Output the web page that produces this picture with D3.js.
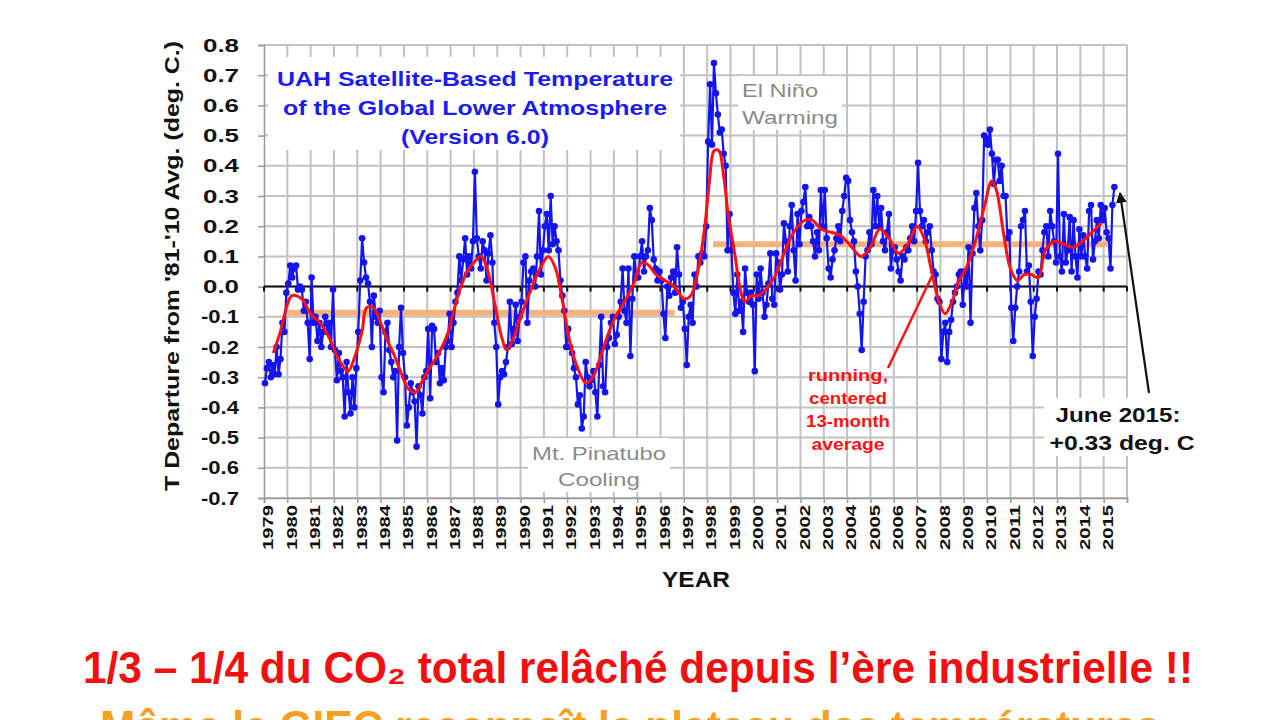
<!DOCTYPE html>
<html><head><meta charset="utf-8">
<script src="https://cdn.jsdelivr.net/npm/d3@7"></script>
<style>
html,body{margin:0;padding:0;background:#fff;}
svg{display:block;font-family:"Liberation Sans",Arial,sans-serif;}
</style></head>
<body><svg id="c" width="1280" height="720"></svg>
<script>
// ---- data ----
const startYear = 1979;
const anomalies = [
-0.32,-0.27,-0.25,-0.30,-0.26,-0.29,-0.20,-0.29,-0.24,-0.12,-0.15,-0.02, // 1979
0.01,0.07,0.03,0.06,0.07,-0.01,0.00,-0.01,-0.08,-0.05,-0.12,-0.24,     // 1980
0.03,-0.12,-0.10,-0.18,-0.12,-0.20,-0.15,-0.10,-0.15,-0.12,-0.20,-0.01, // 1981
-0.21,-0.31,-0.22,-0.28,-0.30,-0.43,-0.25,-0.35,-0.42,-0.30,-0.40,-0.27, // 1982
-0.15,0.02,0.16,0.08,0.03,0.01,-0.05,-0.20,-0.03,-0.10,-0.12,-0.08,   // 1983
-0.30,-0.35,-0.15,-0.12,-0.21,-0.25,-0.30,-0.28,-0.51,-0.20,-0.07,-0.22, // 1984
-0.30,-0.46,-0.40,-0.32,-0.35,-0.38,-0.53,-0.33,-0.36,-0.42,-0.30,-0.28, // 1985
-0.14,-0.37,-0.13,-0.14,-0.25,-0.22,-0.32,-0.27,-0.31,-0.20,-0.18,-0.09, // 1986
-0.20,-0.12,-0.05,-0.02,0.10,0.02,0.09,0.16,0.04,0.10,0.06,0.15,     // 1987
0.38,0.16,0.10,0.06,0.15,0.12,0.02,0.11,0.17,0.08,-0.12,-0.20,       // 1988
-0.39,-0.30,-0.28,-0.29,-0.25,-0.20,-0.05,-0.19,-0.14,-0.06,-0.18,-0.10, // 1989
-0.05,0.08,0.10,-0.12,0.02,0.05,0.06,0.00,0.10,0.25,0.04,0.12,       // 1990
0.20,0.24,0.12,0.30,0.14,0.20,0.15,0.12,0.02,-0.03,-0.08,-0.20,      // 1991
-0.14,-0.20,-0.22,-0.27,-0.30,-0.39,-0.36,-0.47,-0.43,-0.25,-0.30,-0.33, // 1992
-0.31,-0.28,-0.35,-0.43,-0.26,-0.10,-0.33,-0.35,-0.20,-0.17,-0.12,-0.10, // 1993
-0.19,-0.16,-0.10,-0.05,0.06,-0.08,-0.12,0.06,-0.23,-0.04,0.10,0.03,  // 1994
0.03,0.10,0.15,0.05,0.10,0.12,0.26,0.22,0.09,0.06,0.02,0.05,         // 1995
0.02,-0.09,-0.17,0.00,-0.03,0.03,0.05,-0.02,0.13,0.04,-0.07,-0.05,   // 1996
-0.14,-0.26,-0.10,-0.06,-0.12,0.04,0.00,0.10,0.08,0.11,0.10,0.20,    // 1997
0.48,0.67,0.47,0.74,0.64,0.57,0.51,0.52,0.44,0.40,0.12,0.24,         // 1998
0.12,-0.02,-0.09,0.04,-0.08,-0.05,-0.15,0.06,-0.02,-0.05,-0.02,-0.06, // 1999
-0.28,0.04,-0.04,0.06,-0.02,-0.10,-0.06,0.01,0.11,-0.04,-0.06,0.11,  // 2000
0.08,-0.01,0.04,0.21,0.15,0.05,0.20,0.27,0.12,0.02,0.24,0.14,        // 2001
0.25,0.28,0.33,0.20,0.23,0.20,0.15,0.10,0.18,0.12,0.32,0.20,         // 2002
0.32,0.16,0.06,0.03,0.09,0.12,0.16,0.20,0.15,0.25,0.30,0.36,         // 2003
0.35,0.22,0.18,0.15,0.05,0.00,-0.09,-0.21,-0.05,0.10,0.12,0.18,      // 2004
0.14,0.32,0.20,0.30,0.20,0.26,0.15,0.12,0.18,0.24,0.06,0.12,         // 2005
0.13,0.09,0.05,0.02,0.10,0.09,0.13,0.12,0.16,0.20,0.15,0.25,         // 2006
0.41,0.25,0.20,0.22,0.15,0.18,0.20,0.12,0.05,0.04,-0.04,-0.05,       // 2007
-0.24,-0.15,-0.12,-0.25,-0.15,-0.11,-0.05,-0.02,0.00,0.04,0.05,-0.06, // 2008
0.05,0.00,0.13,-0.12,0.11,0.26,0.31,0.20,0.12,0.22,0.50,0.49,        // 2009
0.47,0.52,0.44,0.34,0.42,0.42,0.35,0.40,0.30,0.30,0.16,0.18,         // 2010
-0.07,-0.18,-0.07,0.00,0.05,0.20,0.22,0.25,0.05,0.07,-0.05,-0.23,    // 2011
-0.10,-0.04,0.05,0.04,0.12,0.18,0.20,0.10,0.25,0.20,0.15,0.08,       // 2012
0.44,0.10,0.05,0.24,0.08,0.12,0.23,0.05,0.22,0.10,0.03,0.19,         // 2013
0.10,0.17,0.10,0.06,0.25,0.27,0.09,0.15,0.22,0.16,0.27,0.22,         // 2014
0.26,0.18,0.16,0.06,0.27,0.33                                        // 2015
];
const avgTimes = [1979.4,1979.7,1980.0,1980.2,1980.6,1981.0,1981.4,1981.8,1982.2,1982.6,1982.9,1983.2,1983.4,1983.7,1984.0,1984.3,1984.6,1984.9,1985.2,1985.5,1985.8,1986.1,1986.5,1986.9,1987.1,1987.4,1987.7,1988.0,1988.3,1988.6,1988.9,1989.2,1989.4,1989.7,1990.0,1990.3,1990.6,1990.9,1991.2,1991.5,1991.8,1992.1,1992.4,1992.8,1993.1,1993.4,1993.7,1994.0,1994.3,1994.6,1994.9,1995.2,1995.5,1995.8,1996.2,1996.6,1997.0,1997.3,1997.6,1997.9,1998.1,1998.3,1998.5,1998.7,1998.9,1999.2,1999.4,1999.6,1999.9,2000.2,2000.5,2000.8,2001.0,2001.4,2001.8,2002.2,2002.5,2002.9,2003.3,2003.7,2004.1,2004.6,2005.0,2005.4,2005.8,2006.2,2006.6,2007.0,2007.3,2007.6,2007.9,2008.2,2008.5,2008.8,2009.1,2009.5,2009.9,2010.2,2010.4,2010.7,2011.0,2011.3,2011.6,2011.9,2012.2,2012.5,2012.9,2013.3,2013.7,2014.1,2014.5,2014.9];
const avgValues = [-0.22,-0.15,-0.06,-0.03,-0.04,-0.09,-0.12,-0.17,-0.24,-0.28,-0.23,-0.15,-0.07,-0.07,-0.12,-0.18,-0.23,-0.29,-0.34,-0.35,-0.31,-0.27,-0.22,-0.15,-0.09,-0.01,0.05,0.08,0.10,0.05,-0.06,-0.17,-0.21,-0.17,-0.10,-0.04,0.02,0.07,0.10,0.06,-0.05,-0.18,-0.26,-0.32,-0.30,-0.24,-0.17,-0.11,-0.07,-0.03,0.02,0.08,0.07,0.04,0.02,0.00,-0.04,-0.03,0.05,0.20,0.35,0.45,0.45,0.37,0.24,0.10,0.00,-0.05,-0.03,-0.03,-0.01,0.02,0.05,0.13,0.19,0.22,0.22,0.19,0.18,0.17,0.14,0.10,0.13,0.19,0.16,0.11,0.14,0.20,0.16,0.06,-0.04,-0.09,-0.05,0.02,0.06,0.15,0.27,0.35,0.32,0.18,0.06,0.02,0.04,0.04,0.03,0.12,0.15,0.14,0.13,0.15,0.18,0.21];
const plateauStart = [1980.0, 1998.25];
const plateauEnd = [1996.6, 2015.15];
const plateauLevel = [-0.087, 0.14];
const yTickLabels = ["0.8","0.7","0.6","0.5","0.4","0.3","0.2","0.1","0.0","-0.1","-0.2","-0.3","-0.4","-0.5","-0.6","-0.7"];
const yearLabels = d3.range(1979, 2016).map(String);
const titleLines = ["UAH Satellite-Based Temperature","of the Global Lower Atmosphere","(Version 6.0)"];

// ---- chart ----
const svg = d3.select("#c");
const x = d3.scaleLinear().domain([1979, 2016]).range([264, 1127]);
const y = d3.scaleLinear().domain([-0.7, 0.8]).range([498, 45]);

function label(sel, opts) {
  const t = sel.append("text").attr("x", opts.x).attr("y", opts.y)
    .attr("text-anchor", opts.anchor || "start")
    .attr("font-size", opts.size).attr("font-weight", opts.weight || "normal")
    .attr("fill", opts.fill || "#111").text(opts.text);
  if (opts.len) t.attr("textLength", opts.len).attr("lengthAdjust", "spacingAndGlyphs");
  if (opts.family) t.attr("font-family", opts.family);
  return t;
}

// grid
const g = svg.append("g");
const yVals = yTickLabels.map(Number);
g.selectAll("line.h").data(yVals).join("line")
  .attr("x1", x(1979)).attr("x2", x(2016))
  .attr("y1", d => y(d)).attr("y2", d => y(d))
  .attr("stroke", "#c2c2c2").attr("stroke-width", 2);
g.selectAll("line.v").data(d3.range(1980, 2017)).join("line")
  .attr("x1", d => x(d)).attr("x2", d => x(d))
  .attr("y1", y(0.8)).attr("y2", y(-0.7))
  .attr("stroke", "#c2c2c2").attr("stroke-width", 2);

// y axis
const yAxis = svg.append("g").attr("transform", `translate(${x(1979)},0)`)
  .call(d3.axisLeft(y).tickValues(yVals).tickFormat((d, i) => yTickLabels[i]).tickSize(6).tickPadding(19));
yAxis.select(".domain").attr("stroke", "#999").attr("stroke-width", 1.5);
yAxis.selectAll(".tick line").attr("stroke", "#999").attr("stroke-width", 1.5);
yAxis.selectAll(".tick text").attr("font-size", 19).attr("font-weight", "bold").attr("fill", "#111")
  .attr("font-family", "Liberation Sans, Arial, sans-serif")
  .attr("textLength", (d, i) => yTickLabels[i].startsWith("-") ? 38 : 36)
  .attr("lengthAdjust", "spacingAndGlyphs");

// x axis (bottom)
const xAxis = svg.append("g").attr("transform", `translate(0,${y(-0.7)})`)
  .call(d3.axisBottom(x).tickValues(d3.range(1979, 2017)).tickFormat("").tickSize(5));
xAxis.select(".domain").attr("stroke", "#999").attr("stroke-width", 1.5);
xAxis.selectAll(".tick line").attr("stroke", "#999").attr("stroke-width", 1.5);

svg.append("g").selectAll("text").data(yearLabels).join("text")
  .attr("transform", d => `translate(${x(+d) + 4},${y(-0.7) + 7}) rotate(-90)`)
  .attr("text-anchor", "end").attr("dy", "0.35em")
  .attr("font-size", 15).attr("font-weight", "bold").attr("fill", "#111")
  .attr("textLength", 45).attr("lengthAdjust", "spacingAndGlyphs").text(d => d);

// zero line with ticks
svg.append("line").attr("x1", x(1979)).attr("x2", x(2016)).attr("y1", y(0)).attr("y2", y(0))
  .attr("stroke", "#111").attr("stroke-width", 2);
svg.append("g").selectAll("line").data(d3.range(1979, 2017)).join("line")
  .attr("x1", d => x(d)).attr("x2", d => x(d)).attr("y1", y(0)).attr("y2", y(0) + 5)
  .attr("stroke", "#111").attr("stroke-width", 2);

// title box
svg.append("rect").attr("x", 268).attr("y", 57).attr("width", 412).attr("height", 93).attr("fill", "#fff");
const titleLens = [396, 384, 148];
const titleG = svg.append("g");
titleLines.forEach((t, i) => label(titleG, {x: 475, y: 86 + i * 29, anchor: "middle", size: 21,
  weight: "bold", fill: "#1c1cf0", text: t, len: titleLens[i]}));

// El Nino label
svg.append("rect").attr("x", 738).attr("y", 76).attr("width", 104).attr("height", 54).attr("fill", "#fff");
label(svg, {x: 742, y: 97, size: 19, fill: "#8a8a8a", text: "El Niño", len: 76});
label(svg, {x: 742, y: 124, size: 19, fill: "#8a8a8a", text: "Warming", len: 96});

// Pinatubo label
svg.append("rect").attr("x", 528).attr("y", 438).attr("width", 142).attr("height", 54).attr("fill", "#fff");
label(svg, {x: 599, y: 460, anchor: "middle", size: 19, fill: "#8a8a8a", text: "Mt. Pinatubo", len: 134});
label(svg, {x: 599, y: 486, anchor: "middle", size: 19, fill: "#8a8a8a", text: "Cooling", len: 82});

// plateau lines
svg.append("g").selectAll("line").data(plateauLevel).join("line")
  .attr("x1", (d, i) => x(plateauStart[i])).attr("x2", (d, i) => x(plateauEnd[i]))
  .attr("y1", d => y(d)).attr("y2", d => y(d))
  .attr("stroke", "#f4b27c").attr("stroke-width", 6);

// monthly series
const pts = anomalies.map((v, i) => [startYear + (i + 0.5) / 12, v]);
svg.append("path").datum(pts)
  .attr("d", d3.line().x(d => x(d[0])).y(d => y(d[1])))
  .attr("fill", "none").attr("stroke", "#1414ee").attr("stroke-width", 2.2);
svg.append("g").selectAll("circle").data(pts).join("circle")
  .attr("cx", d => x(d[0])).attr("cy", d => y(d[1])).attr("r", 3.3).attr("fill", "#1414ee");

// running average
const avgPts = avgTimes.map((t, i) => [t, avgValues[i]]);
svg.append("path").datum(avgPts)
  .attr("d", d3.line().curve(d3.curveCatmullRom).x(d => x(d[0])).y(d => y(d[1])))
  .attr("fill", "none").attr("stroke", "#ff1010").attr("stroke-width", 3);

// running label + pointer
svg.append("line").attr("x1", 888).attr("y1", 368).attr("x2", 932).attr("y2", 276)
  .attr("stroke", "#ff1010").attr("stroke-width", 2.5);
const runG = svg.append("g");
[["running,", 80], ["centered", 78], ["13-month", 84], ["average", 73]].forEach((d, i) =>
  label(runG, {x: 848, y: 381 + i * 23, anchor: "middle", size: 16, weight: "bold", fill: "#ff1010", text: d[0], len: d[1]}));

// June 2015 annotation
svg.append("rect").attr("x", 1044).attr("y", 398).attr("width", 156).attr("height", 58).attr("fill", "#fff");
label(svg, {x: 1118, y: 422, anchor: "middle", size: 20, weight: "bold", text: "June 2015:", len: 125});
label(svg, {x: 1122, y: 450, anchor: "middle", size: 20, weight: "bold", text: "+0.33 deg. C", len: 145});
svg.append("defs").append("marker").attr("id", "ah").attr("viewBox", "0 0 10 10")
  .attr("refX", 9).attr("refY", 5).attr("markerWidth", 5).attr("markerHeight", 5).attr("orient", "auto")
  .append("path").attr("d", "M0,0L10,5L0,10z").attr("fill", "#111");
svg.append("line").attr("x1", 1149).attr("y1", 393).attr("x2", 1120).attr("y2", 193)
  .attr("stroke", "#111").attr("stroke-width", 2.2).attr("marker-end", "url(#ah)");

// axis titles
svg.append("text").attr("transform", "translate(172,266) rotate(-90)").attr("text-anchor", "middle")
  .attr("dy", "0.35em").attr("font-size", 20).attr("font-weight", "bold").attr("fill", "#111")
  .attr("textLength", 450).attr("lengthAdjust", "spacingAndGlyphs")
  .text("T Departure from '81-'10 Avg. (deg. C.)");
label(svg, {x: 696, y: 587, anchor: "middle", size: 22, weight: "bold", text: "YEAR", len: 68});

// bottom captions
const narrow = "Liberation Sans Narrow, Arial Narrow, Liberation Sans, sans-serif";
label(svg, {x: 83, y: 683, size: 44, weight: "bold", fill: "#f01010",
  text: "1/3 – 1/4 du CO₂ total relâché depuis l’ère industrielle !!", len: 1110, family: narrow});
label(svg, {x: 100, y: 742, size: 44, weight: "bold", fill: "#f5a020", text: "Même le GIEC reconnaît le plateau des températures", len: 1060, family: narrow});
</script></body></html>
